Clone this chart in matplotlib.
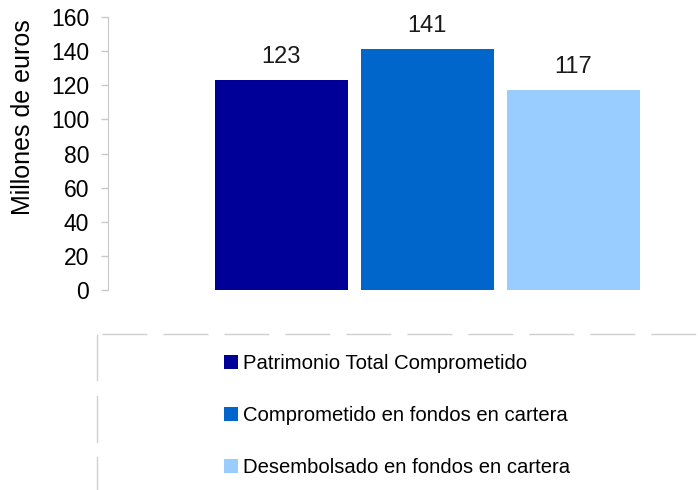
import matplotlib.pyplot as plt
from matplotlib.lines import Line2D

plt.rcParams['font.family'] = ['Liberation Sans', 'DejaVu Sans']

series = ['Patrimonio Total Comprometido',
          'Comprometido en fondos en cartera',
          'Desembolsado en fondos en cartera']
valores = [123, 141, 117]
colores = ['#000099', '#0066CC', '#99CCFF']
yticks = [0, 20, 40, 60, 80, 100, 120, 140, 160]

W, H = 698, 490
fig = plt.figure(figsize=(W / 100, H / 100), dpi=100)
ax = fig.add_axes([108 / W, 1 - 290 / H, 582 / W, 273 / H])

pos = range(len(valores))
barras = ax.bar(pos, valores, width=0.91, color=colores, label=series)
for b, v in zip(barras, valores):
    ax.annotate(str(v), (b.get_x() + b.get_width() / 2, v), xytext=(0, 9),
                textcoords='offset points', ha='center', va='bottom',
                fontsize=17, color='#1a1a1a')

ax.set_ylim(0, 160)
ax.set_xlim(-1.185, 2.80)
ax.set_yticks(yticks)
ax.set_xticks([])
ax.tick_params(axis='y', labelsize=16.5, colors='#C8C8C8', labelcolor='#000000',
               length=5, width=1, pad=8.5)
for s in ['top', 'right', 'bottom']:
    ax.spines[s].set_visible(False)
ax.spines['left'].set_color('#C8C8C8')
fig.text(23 / W, 1 - 117 / H, 'Millones de euros', rotation=90,
         ha='center', va='center', fontsize=18)

# caja de la leyenda (linea discontinua y trazos verticales)
fig.add_artist(Line2D([102 / W, 1], [1 - 334 / H] * 2, transform=fig.transFigure,
                      color='#D0D0D0', lw=1, ls=(0, (32.4, 11.5))))
for y0, y1 in [(335, 380), (396, 442), (457, 490)]:
    fig.add_artist(Line2D([97 / W] * 2, [1 - y0 / H, 1 - y1 / H],
                          transform=fig.transFigure, color='#D0D0D0', lw=1))

fig.legend(handles=barras, labels=series, loc='upper left',
           bbox_to_anchor=(224 / W, 1 - 354 / H), frameon=False, fontsize=14.6,
           handlelength=0.69, handleheight=0.69, handletextpad=0.25,
           labelspacing=1.62, borderpad=0, borderaxespad=0)

fig.savefig('out.png', dpi=100)
